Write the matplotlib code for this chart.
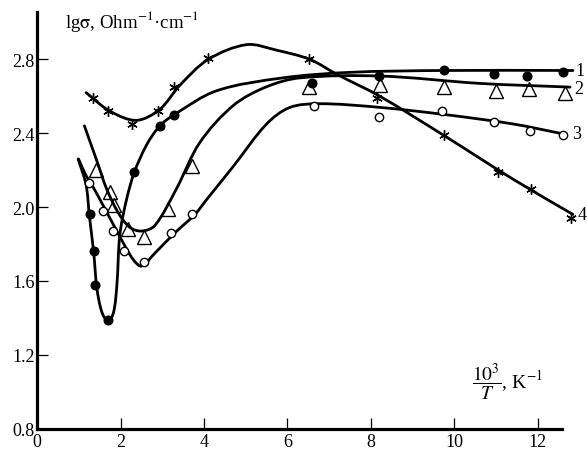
import numpy as np
import matplotlib
matplotlib.use("Agg")
import matplotlib.pyplot as plt
from matplotlib.path import Path
from matplotlib.patches import PathPatch

plt.rcParams['font.family'] = ['Liberation Serif', 'DejaVu Serif']
plt.rcParams['mathtext.fontset'] = 'stix'

# ---------------- data ----------------
x_ticks = [0, 2, 4, 6, 8, 10, 12]
y_ticks = [0.8, 1.2, 1.6, 2.0, 2.4, 2.8]
y_label = r'lg$\mathrm{\sigma}$, Ohm$^{-1}$·cm$^{-1}$'
x_label = r'$\dfrac{10^3}{T}$, K$^{-1}$'
curve_names = ['1', '2', '3', '4']

# measured points
s1_x = [1.26, 1.37, 1.38, 1.70, 2.33, 2.94, 3.28, 6.60, 8.19, 9.75, 10.95, 11.74, 12.61]
s1_y = [1.96, 1.76, 1.58, 1.39, 2.19, 2.44, 2.50, 2.67, 2.71, 2.74, 2.72, 2.71, 2.73]

s2_x = [1.41, 1.74, 1.85, 2.18, 2.57, 3.13, 3.70, 6.52, 8.22, 9.76, 11.00, 11.80, 12.66]
s2_y = [2.20, 2.08, 2.01, 1.88, 1.84, 1.99, 2.22, 2.65, 2.66, 2.65, 2.63, 2.64, 2.62]

s3_x = [1.23, 1.58, 1.82, 2.08, 2.57, 3.21, 3.71, 6.64, 8.20, 9.72, 10.96, 11.82, 12.60]
s3_y = [2.13, 1.98, 1.87, 1.76, 1.70, 1.86, 1.96, 2.55, 2.49, 2.52, 2.46, 2.41, 2.39]

s4_x = [1.34, 1.70, 2.28, 2.89, 3.28, 4.10, 6.52, 8.16, 9.76, 11.04, 11.84, 12.80]
s4_y = [2.59, 2.52, 2.45, 2.52, 2.65, 2.81, 2.80, 2.59, 2.39, 2.19, 2.10, 1.94]

# hand-drawn fit curves (knots)
c1_x = [0.98, 1.17, 1.25, 1.35, 1.43, 1.55, 1.70, 1.83, 1.91, 1.98, 2.14, 2.33, 2.63, 2.94, 3.28, 4.30, 5.89, 7.50, 9.73, 12.85]
c1_y = [2.26, 2.12, 1.95, 1.76, 1.56, 1.43, 1.38, 1.43, 1.58, 1.85, 2.04, 2.19, 2.34, 2.44, 2.50, 2.63, 2.70, 2.73, 2.74, 2.74]

c2_x = [1.13, 1.46, 1.66, 1.94, 2.22, 2.50, 2.82, 3.34, 3.90, 4.70, 5.48, 6.30, 8.22, 10.62, 12.78]
c2_y = [2.44, 2.23, 2.10, 1.97, 1.89, 1.87, 1.90, 2.10, 2.35, 2.55, 2.65, 2.70, 2.71, 2.67, 2.65]

c3_x = [0.99, 1.17, 1.31, 1.60, 1.86, 2.10, 2.32, 2.50, 2.82, 3.30, 3.78, 4.06, 4.70, 5.50, 6.06, 6.78, 8.22, 9.82, 11.42, 12.54]
c3_y = [2.26, 2.17, 2.12, 2.00, 1.89, 1.79, 1.71, 1.68, 1.75, 1.86, 1.96, 2.04, 2.22, 2.45, 2.54, 2.56, 2.54, 2.50, 2.45, 2.40]

c4_x = [1.17, 1.74, 2.38, 2.94, 3.42, 4.10, 5.02, 5.74, 6.54, 7.18, 8.22, 9.74, 11.42, 12.85]
c4_y = [2.62, 2.52, 2.47, 2.53, 2.66, 2.80, 2.88, 2.85, 2.80, 2.72, 2.60, 2.39, 2.15, 1.96]

label_x = [13.02, 12.99, 12.94, 13.06]
label_y = [2.74, 2.64, 2.40, 1.96]

# ---------------- figure ----------------
W, H = 587, 452
fig = plt.figure(figsize=(W / 100, H / 100), dpi=100)
ax = fig.add_axes([37.3 / W, (H - 429.5) / H, (561.7 - 37.3) / W, (429.5 - 13) / H])
ax.set_xlim(0, 12.58)
ax.set_ylim(0.8, 3.057)

for s in ['top', 'right']:
    ax.spines[s].set_visible(False)
for s in ['left', 'bottom']:
    ax.spines[s].set_linewidth(2.3)

ax.set_xticks(x_ticks)
ax.set_xticklabels([str(t) for t in x_ticks])
ax.set_yticks(y_ticks)
ax.set_yticklabels([f'{t:.1f}' for t in y_ticks])
ax.tick_params(direction='in', length=8, width=0.9, labelsize=13, colors='black')
ax.tick_params(axis='y', pad=2)
ax.tick_params(axis='x', pad=3)


def smooth_path(xs, ys):
    P = ax.transData.transform(np.column_stack([xs, ys]))
    n = len(P)
    d = np.hypot(*np.diff(P, axis=0).T)
    T = np.zeros_like(P)
    T[0] = (P[1] - P[0]) / d[0]
    T[-1] = (P[-1] - P[-2]) / d[-1]
    for i in range(1, n - 1):
        T[i] = (P[i + 1] - P[i - 1]) / (d[i - 1] + d[i])
    verts = [P[0]]
    codes = [Path.MOVETO]
    for i in range(n - 1):
        verts += [P[i] + T[i] * d[i] / 3, P[i + 1] - T[i + 1] * d[i] / 3, P[i + 1]]
        codes += [Path.CURVE4] * 3
    verts = ax.transData.inverted().transform(np.array(verts))
    return Path(verts, codes)


for cx, cy in [(c1_x, c1_y), (c2_x, c2_y), (c3_x, c3_y), (c4_x, c4_y)]:
    patch = PathPatch(smooth_path(cx, cy), fill=False, lw=2.0, ec='black',
                      transform=ax.transData, clip_on=False, zorder=2,
                      capstyle='round', joinstyle='round')
    ax.add_patch(patch)

ax.plot(s1_x, s1_y, 'o', ms=6.2, mfc='black', mec='black', ls='none', clip_on=False, zorder=4)
ax.plot(s2_x, s2_y, '^', ms=9.5, mfc='none', mec='black', mew=1.0, ls='none', clip_on=False, zorder=3)
ax.plot(s3_x, s3_y, 'o', ms=6, mfc='white', mec='black', mew=1.0, ls='none', clip_on=False, zorder=4)
ax.plot(s4_x, s4_y, marker=(6, 2, 0), ms=7.5, mec='black', mew=1.0, ls='none', clip_on=False, zorder=4)

for name, lx, ly in zip(curve_names, label_x, label_y):
    ax.text(lx, ly, name, fontsize=13, ha='center', va='center', clip_on=False)

fig.text(65 / W, 1 - 28 / H, y_label, fontsize=13.5, ha='left', va='baseline')
fig.text(472 / W, 1 - 382 / H, x_label, fontsize=14, ha='left', va='center')

fig.savefig('out.png', dpi=100)
